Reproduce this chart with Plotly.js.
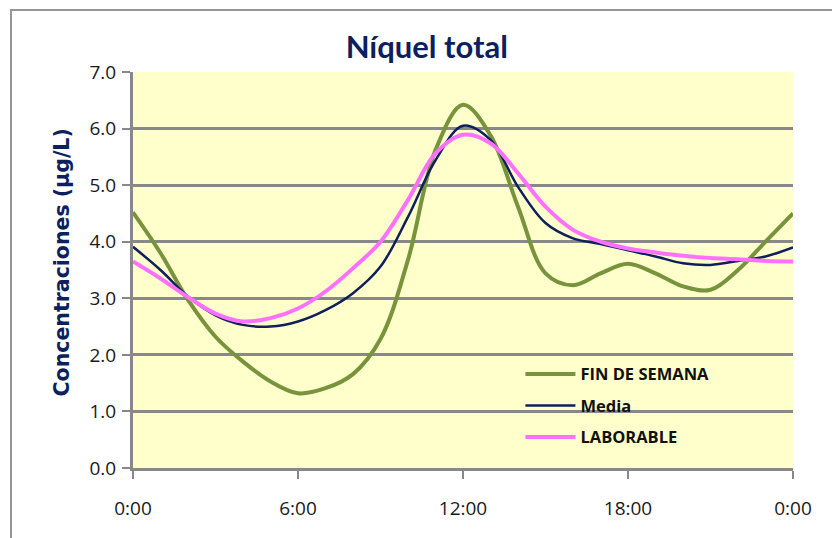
<!DOCTYPE html>
<html>
<head>
<meta charset="utf-8">
<script src="https://cdn.plot.ly/plotly-3.0.1.min.js"></script>
<style>
  html, body { margin: 0; padding: 0; background: #ffffff; }
  #frame { position: absolute; left: 10px; top: 9px; width: 840px; height: 560px;
           border-left: 2px solid #969696; border-top: 2px solid #969696; }
  #chart { position: absolute; left: 0; top: 0; width: 832px; height: 538px; }
</style>
</head>
<body>
<div id="frame"></div>
<div id="chart"></div>
<script>
const hours = [0,1,2,3,4,5,6,7,8,9,10,11,12,13,14,15,16,17,18,19,20,21,22,23,24];
const tickHours = [0, 6, 12, 18, 24];
const tickLabels = ["0:00", "6:00", "12:00", "18:00", "0:00"];

const finDeSemana = [4.52,3.80,2.97,2.32,1.88,1.53,1.32,1.41,1.66,2.28,3.68,5.62,6.42,5.88,4.62,3.44,3.23,3.44,3.61,3.44,3.21,3.15,3.50,4.00,4.50];
const media       = [3.91,3.50,3.03,2.70,2.53,2.50,2.59,2.79,3.09,3.56,4.44,5.44,6.05,5.80,4.97,4.33,4.06,3.96,3.85,3.74,3.62,3.59,3.66,3.74,3.90];
const laborable   = [3.65,3.35,3.02,2.73,2.59,2.65,2.82,3.12,3.53,4.00,4.74,5.56,5.89,5.74,5.21,4.62,4.21,4.00,3.88,3.81,3.75,3.71,3.69,3.66,3.65];

const traces = [
  { x: hours, y: finDeSemana, name: "FIN DE SEMANA", type: "scatter", mode: "lines", legendgroup: "a",
    line: { color: "#77933C", width: 4, shape: "spline", smoothing: 1 } },
  { x: hours, y: media, name: "Media", type: "scatter", mode: "lines", legendgroup: "b",
    line: { color: "#0D1F5C", width: 2.5, shape: "spline", smoothing: 1 } },
  { x: hours, y: laborable, name: "LABORABLE", type: "scatter", mode: "lines", legendgroup: "c",
    line: { color: "#FF70FF", width: 4, shape: "spline", smoothing: 1 } }
];

const tickFont = { family: "'Open Sans', 'Noto Sans', sans-serif", size: 19, color: "#1a1a1a" };

const layout = {
  width: 832, height: 538,
  paper_bgcolor: "rgba(0,0,0,0)",
  plot_bgcolor: "#FFFFCC",
  margin: { l: 133, r: 39, t: 72, b: 70, pad: 0 },
  title: { text: "<b>Níquel total</b>", x: 0.513, xanchor: "center", y: 0.913, yanchor: "middle",
           font: { family: "Lato, 'Open Sans', sans-serif", size: 31, color: "#0D1F5C" } },
  font: tickFont,
  xaxis: {
    range: [0, 24], tickmode: "array", tickvals: tickHours, ticktext: tickLabels,
    showgrid: false, zeroline: false,
    showline: true, linecolor: "#888888", linewidth: 3,
    ticks: "outside", ticklen: 8, tickwidth: 2, tickcolor: "#888888",
    ticklabelstandoff: 13,
    tickfont: tickFont
  },
  yaxis: {
    range: [0, 7], dtick: 1, tick0: 0, tickformat: ".1f",
    showgrid: true, gridcolor: "#888888", gridwidth: 3, zeroline: false,
    showline: true, linecolor: "#888888", linewidth: 3,
    ticks: "outside", ticklen: 8, tickwidth: 2, tickcolor: "#888888",
    ticklabelstandoff: 2,
    tickfont: tickFont
  },
  annotations: [{
    text: "<b>Concentraciones (µg/L)</b>", textangle: -90, showarrow: false,
    xref: "paper", yref: "paper", x: -0.107, y: 0.52, xanchor: "center", yanchor: "middle",
    font: { family: "'DejaVu Sans', Verdana, sans-serif", size: 20.5, color: "#0D1F5C" }
  }],
  legend: {
    x: 0.587, y: 0.157, xanchor: "left", yanchor: "middle",
    bgcolor: "rgba(0,0,0,0)", borderwidth: 0,
    itemwidth: 50, tracegroupgap: 7,
    font: { family: "'Open Sans', 'Noto Sans', sans-serif", size: 16.5, color: "#111111", weight: "bold" }
  },
  showlegend: true
};

Plotly.newPlot("chart", traces, layout, { displayModeBar: false, staticPlot: true });
</script>
</body>
</html>
